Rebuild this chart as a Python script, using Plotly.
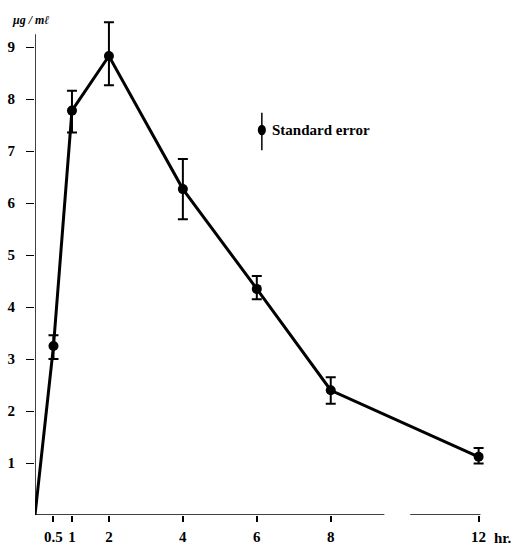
import plotly.graph_objects as go

hours = [0, 0.5, 1, 2, 4, 6, 8, 12]
conc = [0, 3.25, 7.78, 8.83, 6.27, 4.35, 2.40, 1.12]
err_plus = [0, 0.21, 0.38, 0.65, 0.58, 0.25, 0.25, 0.17]
err_minus = [0, 0.25, 0.42, 0.56, 0.58, 0.20, 0.26, 0.13]

x_ticks = [0.5, 1, 2, 4, 6, 8, 12]
x_tick_labels = ["<b>0.5</b>", "<b>1</b>", "<b>2</b>", "<b>4</b>", "<b>6</b>", "<b>8</b>", "<b>12</b>"]
y_ticks = [1, 2, 3, 4, 5, 6, 7, 8, 9]
y_tick_labels = ["<b>%d</b>" % v for v in y_ticks]

font = "Liberation Serif"
Y_TOP = 9.6      # plotting range top (room for error bar)
Y_AXIS_TOP = 9.25  # where the drawn axis line ends

fig = go.Figure()
fig.add_trace(go.Scatter(
    x=hours, y=conc, mode="lines",
    line=dict(color="black", width=3),
    showlegend=False, hoverinfo="skip", cliponaxis=False,
))
fig.add_trace(go.Scatter(
    x=hours[1:], y=conc[1:], mode="markers",
    marker=dict(color="black", size=10, symbol="circle"),
    error_y=dict(type="data", symmetric=False, array=err_plus[1:], arrayminus=err_minus[1:],
                 color="black", thickness=2, width=5),
    showlegend=False, cliponaxis=False,
))

# axis lines (x axis broken between 8 and 12)
fig.add_shape(type="line", xref="x", yref="y", x0=0, x1=9.45, y0=0, y1=0,
              line=dict(color="black", width=1.5))
fig.add_shape(type="line", xref="x", yref="y", x0=10.15, x1=12.05, y0=0, y1=0,
              line=dict(color="black", width=1.5))
fig.add_shape(type="line", xref="x", yref="y", x0=0, x1=0, y0=0, y1=Y_AXIS_TOP,
              line=dict(color="black", width=1.5))

# legend key
fig.add_shape(type="line", xref="paper", yref="paper", x0=0.503, x1=0.503, y0=0.731, y1=0.806,
              line=dict(color="black", width=1.5))
fig.add_shape(type="circle", xref="paper", yref="paper", x0=0.494, x1=0.512, y0=0.761, y1=0.782,
              fillcolor="black", line=dict(color="black", width=0))
fig.add_annotation(text="<b>Standard error</b>", xref="paper", yref="paper", x=0.52, y=0.7715,
                   xanchor="left", yanchor="middle", showarrow=False,
                   font=dict(family=font, size=15, color="black"))

fig.add_annotation(text="<b><i>μg / mℓ</i></b>", xref="paper", yref="y", x=-0.055, y=Y_AXIS_TOP,
                   xanchor="left", yanchor="bottom", yshift=5, showarrow=False,
                   font=dict(family=font, size=12, color="black"))
fig.add_annotation(text="<b>hr.</b>", xref="paper", yref="paper", x=1.0, y=0,
                   xanchor="left", yanchor="top", xshift=6, yshift=-13, showarrow=False,
                   font=dict(family=font, size=15, color="black"))

fig.update_layout(
    width=515, height=550,
    margin=dict(l=35, r=29, t=16, b=35, autoexpand=False),
    paper_bgcolor="white", plot_bgcolor="white",
    font=dict(family=font, color="black"),
    xaxis=dict(range=[0, 12.2], showgrid=False, zeroline=False, showline=False, automargin=False,
               tickmode="array", tickvals=x_ticks, ticktext=x_tick_labels,
               ticks="outside", ticklen=6, tickwidth=1.5, tickcolor="black",
               tickfont=dict(family=font, size=15, color="black"), ticklabelstandoff=2),
    yaxis=dict(range=[0, Y_TOP], showgrid=False, zeroline=False, showline=False, automargin=False,
               tickmode="array", tickvals=y_ticks, ticktext=y_tick_labels,
               ticks="outside", ticklen=8, tickwidth=1, tickcolor="black",
               tickfont=dict(family=font, size=15, color="black"), ticklabelstandoff=8),
)

fig.write_html("out.html")
